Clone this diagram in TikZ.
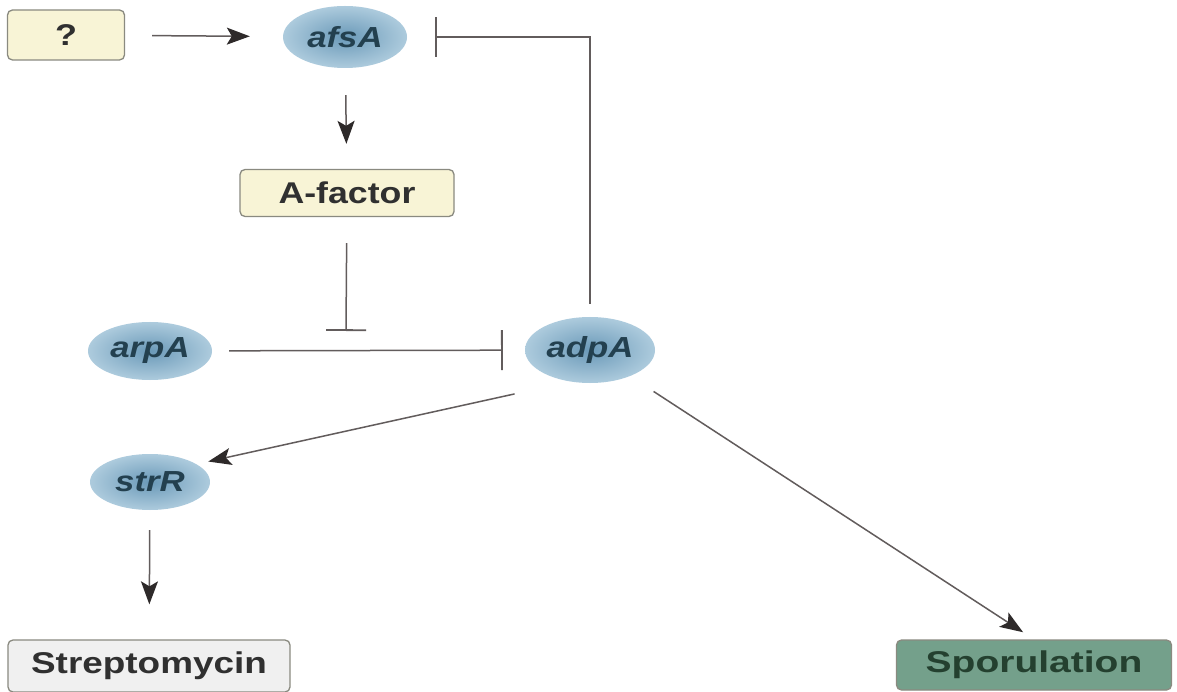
\documentclass[tikz,border=0pt]{standalone}
\usepackage{fontspec}
\setmainfont{Liberation Sans}
\usetikzlibrary{arrows.meta,shapes.geometric}
\definecolor{ellin}{HTML}{6A99B8}
\definecolor{ellout}{HTML}{ADCBDD}
\definecolor{elltext}{HTML}{23404F}
\definecolor{paleyellow}{HTML}{F8F4D6}
\definecolor{boxline}{HTML}{8A8A80}
\definecolor{greybox}{HTML}{F0F0F0}
\definecolor{greenbox}{HTML}{74A08B}
\definecolor{greentext}{HTML}{24402F}
\definecolor{linecol}{HTML}{625C5C}
\definecolor{tipcol}{HTML}{2E2A2A}
\definecolor{textcol}{HTML}{303030}
\newcommand{\wtxt}[2][1.2]{\scalebox{#1}[1]{#2}}
\tikzset{
  gene/.style={ellipse, inner sep=0pt, shading=radial, inner color=ellin, outer color=ellout,
    text=elltext, font=\fontsize{29}{29}\selectfont\bfseries\itshape},
  genebox/.style={draw=boxline, line width=1.3pt, rounded corners=5pt, inner sep=0pt,
    text=textcol, font=\fontsize{30}{30}\selectfont\bfseries},
  arr/.style={draw=linecol, line width=1.5pt, -{Stealth[length=23pt,width=17pt,inset=5pt,color=tipcol]}},
  inh/.style={draw=linecol, line width=1.5pt, -{Bar[width=40pt,line width=1.8pt]}},
}
\begin{document}
\begin{tikzpicture}[x=1pt,y=-1pt]
\useasboundingbox (0,0) rectangle (1177,692);
\fill[white] (0,0) rectangle (1177,692);
% nodes
\node[genebox, fill=paleyellow, minimum width=117pt, minimum height=50pt] (q) at (66,35) {\wtxt{?}};
\node[gene, minimum width=124pt, minimum height=62pt] (afsA) at (345,37) {\wtxt{afsA}};
\node[genebox, fill=paleyellow, minimum width=214pt, minimum height=47pt] (Af) at (347,193) {\wtxt[1.19]{A-factor}};
\node[gene, minimum width=124pt, minimum height=58pt] (arpA) at (150,351) {\wtxt{arpA}};
\node[gene, minimum width=130pt, minimum height=66pt] (adpA) at (590,350) {\wtxt{adpA}};
\node[gene, minimum width=120pt, minimum height=56pt] (strR) at (150,482) {\wtxt{strR}};
\node[genebox, fill=greybox, minimum width=282pt, minimum height=52pt] (strep) at (149,666) {\wtxt[1.23]{Streptomycin}};
\node[genebox, fill=greenbox, text=greentext, minimum width=275pt, minimum height=50pt] (spor) at (1034,665) {\wtxt[1.3]{Sporulation}};
\coordinate (afbar) at (346,331);
% connectors
\draw[arr, shorten <=27pt, shorten >=33pt] (q) -- (afsA);
\draw[arr, shorten <=27pt, shorten >=25pt] (afsA) -- (Af);
\draw[inh, shorten <=26pt] (Af) -- (afbar);
\draw[inh, shorten <=17pt, shorten >=22pt] (arpA) -- (adpA);
\draw[inh, shorten <=13pt, shorten >=28pt] (adpA.north) |- (afsA.east);
\draw[arr, shorten <=57pt, shorten >=12pt] (adpA.238) -- (strR.21);
\draw[arr, shorten <=20pt, shorten >=35pt] (strR) -- (strep);
\draw[arr, shorten <=28pt, shorten >=13pt] (adpA) -- (spor.north);
\end{tikzpicture}
\end{document}
